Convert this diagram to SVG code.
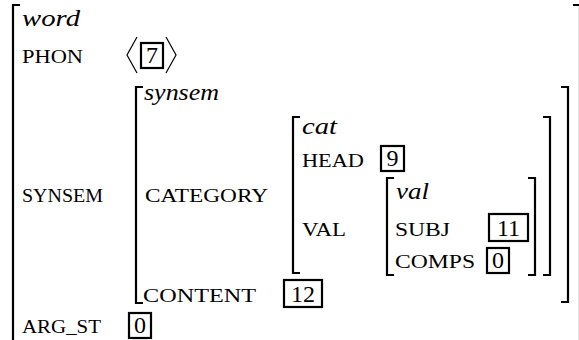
<svg xmlns="http://www.w3.org/2000/svg" width="579" height="340" viewBox="0 0 579 340">
  <style>
    .br { fill: none; stroke: #000; stroke-width: 2.2; stroke-linecap: butt; }
    .tag { fill: none; stroke: #000; stroke-width: 2.2; }
    .ang { fill: none; stroke: #000; stroke-width: 1.2; }
  </style>
  <rect width="579" height="340" fill="#fff"/>

  <!-- outer matrix: word -->
  <g id="word">
    <path class="br" d="M20,5 H13 V345"/>
    <path class="br" d="M573,5 H580 V345"/>
    <text x="22" y="26" style="font-family:'Liberation Serif','Times New Roman',serif;font-style:italic;font-size:24px" textLength="58" lengthAdjust="spacingAndGlyphs">word</text>
    <text x="22" y="63" font-family="Liberation Serif" font-size="19" textLength="61" lengthAdjust="spacingAndGlyphs">PHON</text>
    <text x="22" y="202" font-family="Liberation Serif" font-size="19" textLength="81" lengthAdjust="spacingAndGlyphs">SYNSEM</text>
    <text x="22" y="333" font-family="Liberation Serif" font-size="19" textLength="79" lengthAdjust="spacingAndGlyphs">ARG_ST</text>
  </g>

  <!-- PHON value: list with tag 7 -->
  <g id="phon">
    <path class="ang" d="M137,37 L127,55 L137,73"/>
    <path class="ang" d="M166,37 L176,55 L166,73"/>
    <rect class="tag" x="141" y="43" width="22" height="25"/>
    <text x="152" y="63" style="font-family:'Liberation Serif','Times New Roman',serif;font-size:24px" text-anchor="middle">7</text>
  </g>

  <!-- SYNSEM value -->
  <g id="synsem">
    <path class="br" d="M143,87 H136 V303 H143"/>
    <path class="br" d="M561,87 H568 V302 H561"/>
    <text x="144" y="100" style="font-family:'Liberation Serif','Times New Roman',serif;font-style:italic;font-size:24px" textLength="75" lengthAdjust="spacingAndGlyphs">synsem</text>
    <text x="145" y="202" font-family="Liberation Serif" font-size="19" textLength="123" lengthAdjust="spacingAndGlyphs">CATEGORY</text>
    <text x="143" y="302" font-family="Liberation Serif" font-size="19" textLength="113" lengthAdjust="spacingAndGlyphs">CONTENT</text>
  </g>

  <!-- CATEGORY value -->
  <g id="cat">
    <path class="br" d="M300,117 H293 V273 H300"/>
    <path class="br" d="M543,117 H550 V275 H543"/>
    <text x="302" y="134" style="font-family:'Liberation Serif','Times New Roman',serif;font-style:italic;font-size:24px" textLength="35" lengthAdjust="spacingAndGlyphs">cat</text>
    <text x="302" y="167" font-family="Liberation Serif" font-size="19" textLength="62" lengthAdjust="spacingAndGlyphs">HEAD</text>
    <text x="302" y="236" font-family="Liberation Serif" font-size="19" textLength="44" lengthAdjust="spacingAndGlyphs">VAL</text>
  </g>

  <!-- VAL value -->
  <g id="val">
    <path class="br" d="M394,178 H387 V275 H394"/>
    <path class="br" d="M528,178 H535 V275 H528"/>
    <text x="396" y="199" style="font-family:'Liberation Serif','Times New Roman',serif;font-style:italic;font-size:24px" textLength="33" lengthAdjust="spacingAndGlyphs">val</text>
    <text x="395" y="236" font-family="Liberation Serif" font-size="19" textLength="55" lengthAdjust="spacingAndGlyphs">SUBJ</text>
    <text x="395" y="268" font-family="Liberation Serif" font-size="19" textLength="80" lengthAdjust="spacingAndGlyphs">COMPS</text>
  </g>

  <!-- structure-sharing tags -->
  <g id="tag9">
    <rect class="tag" x="381" y="146" width="23" height="25"/>
    <text x="392.5" y="166" style="font-family:'Liberation Serif','Times New Roman',serif;font-size:24px" text-anchor="middle">9</text>
  </g>
  <g id="tag11">
    <rect class="tag" x="489" y="214" width="39" height="27"/>
    <text x="508.5" y="236" style="font-family:'Liberation Serif','Times New Roman',serif;font-size:24px" text-anchor="middle">11</text>
  </g>
  <g id="tag0-comps">
    <rect class="tag" x="487" y="248" width="22" height="25"/>
    <text x="498" y="268" style="font-family:'Liberation Serif','Times New Roman',serif;font-size:24px" text-anchor="middle">0</text>
  </g>
  <g id="tag12">
    <rect class="tag" x="284" y="280" width="38" height="27"/>
    <text x="303" y="302" style="font-family:'Liberation Serif','Times New Roman',serif;font-size:24px" text-anchor="middle">12</text>
  </g>
  <g id="tag0-argst">
    <rect class="tag" x="129" y="313" width="22" height="25"/>
    <text x="140" y="333" style="font-family:'Liberation Serif','Times New Roman',serif;font-size:24px" text-anchor="middle">0</text>
  </g>
</svg>
